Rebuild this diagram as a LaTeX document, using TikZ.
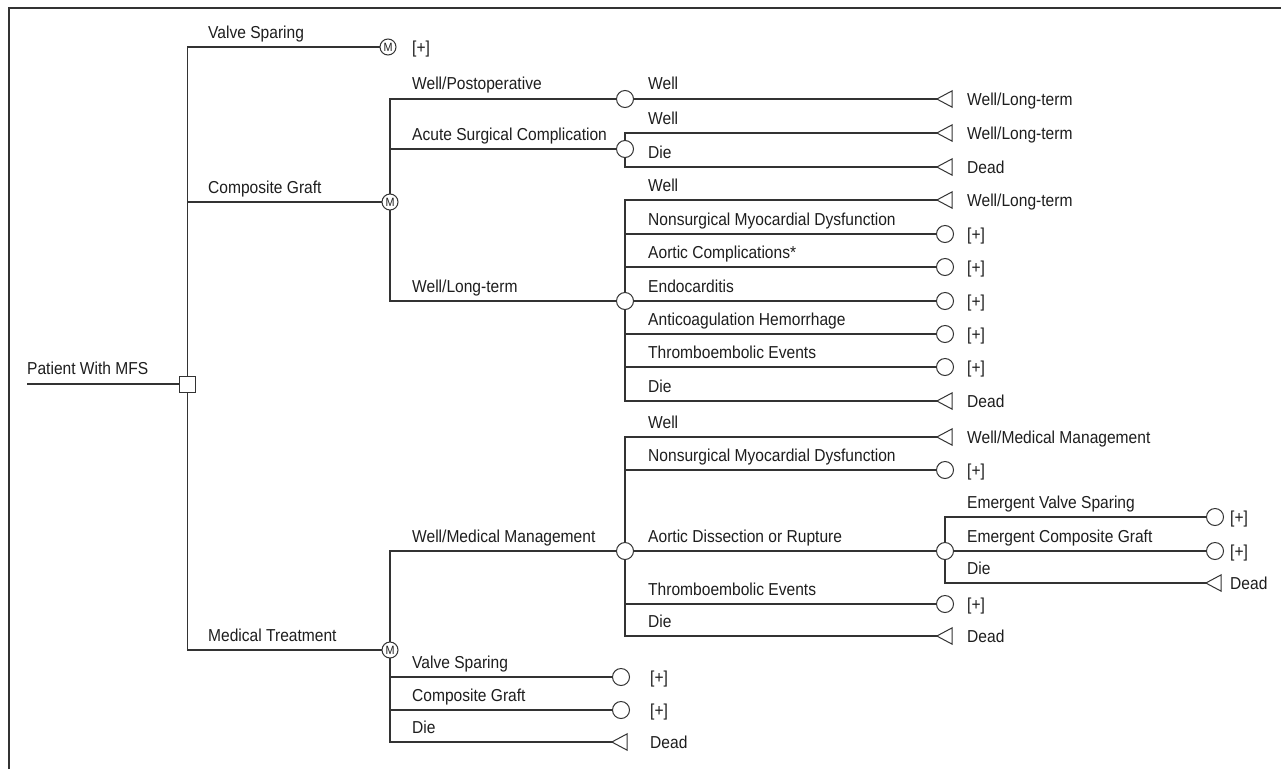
\documentclass[tikz,border=0pt]{standalone}
\usepackage{fontspec}
\setmainfont{Liberation Sans}[FakeStretch=0.9]
\pgfdeclarelayer{bg}
\pgfdeclarelayer{edges}
\pgfsetlayers{bg,edges,main}
\definecolor{ink}{HTML}{333333}
\definecolor{txt}{HTML}{1E1E1E}
\begin{document}
\begin{tikzpicture}[x=1pt,y=-1pt,
  edge/.style={draw=ink,line width=1.2pt},
  chance/.style={circle,draw=ink,fill=white,line width=1pt,minimum size=17pt,inner sep=0pt},
  markov/.style={circle,draw=ink,fill=white,line width=1pt,minimum size=16pt,inner sep=0pt,font=\fontsize{12}{12}\selectfont,text=txt},
  decision/.style={rectangle,draw=ink,fill=white,line width=1pt,minimum size=16pt,inner sep=0pt},
  term/.style={rectangle,minimum width=15pt,minimum height=16pt,inner sep=0pt},
  lab/.style={anchor=base west,inner sep=0pt,text=txt,font=\fontsize{17.3}{20}\selectfont},
  tri/.style={draw=ink,line width=1pt,fill=white,line join=miter}
]
\useasboundingbox (0,0) rectangle (1281,769);
\begin{pgfonlayer}{bg}
\fill[white] (0,0) rectangle (1281,769);
\end{pgfonlayer}
% frame
\draw[ink,line width=1.5pt] (9,769) -- (9,8) -- (1281,8);

% decision / markov / chance nodes
\coordinate (start) at (27,384);
\node[decision] (root) at (187.5,384) {};
\node[markov] (mVS) at (388,47) {M};
\node[markov] (mCG) at (390,202) {M};
\node[markov] (mMT) at (390,650) {M};
\node[chance] (cWP) at (625,99) {};
\node[chance] (cAS) at (625,149) {};
\node[chance] (cWL) at (625,301) {};
\node[chance] (cWM) at (625,551) {};
\node[chance] (cAD) at (945,551) {};

% terminals
\node[term] (tA1) at (944.5,99) {};
\node[term] (tA2) at (944.5,133) {};
\node[term] (tA3) at (944.5,167) {};
\node[term] (tB1) at (944.5,200) {};
\node[chance] (pB2) at (945,234) {};
\node[chance] (pB3) at (945,267) {};
\node[chance] (pB4) at (945,301) {};
\node[chance] (pB5) at (945,334) {};
\node[chance] (pB6) at (945,367) {};
\node[term] (tB7) at (944.5,401) {};
\node[term] (tC1) at (944.5,437) {};
\node[chance] (pC2) at (945,470) {};
\node[chance] (pE1) at (1215,517) {};
\node[chance] (pE2) at (1215,551) {};
\node[term] (tE3) at (1213.5,583) {};
\node[chance] (pC4) at (945,604) {};
\node[term] (tC5) at (944.5,636) {};
\node[chance] (pM1) at (621,677) {};
\node[chance] (pM2) at (621,710) {};
\node[term] (tM3) at (619.5,742) {};

\foreach \t in {tA1,tA2,tA3,tB1,tB7,tC1,tE3,tC5,tM3}
  \draw[tri] (\t.west) -- (\t.north east) -- (\t.south east) -- cycle;

% connectors
\begin{pgfonlayer}{edges}
\draw[edge] (start) -- (root.west);
\draw[edge] (root.center) |- (mVS.west);
\draw[edge] (root.center) |- (mCG.west);
\draw[edge] (root.center) |- (mMT.west);
\draw[edge] (mCG.center) |- (cWP.west);
\draw[edge] (mCG.center) |- (cAS.west);
\draw[edge] (mCG.center) |- (cWL.west);
\draw[edge] (cWP.center) -- (tA1.west);
\draw[edge] (cAS.center) |- (tA2.west);
\draw[edge] (cAS.center) |- (tA3.west);
\draw[edge] (cWL.center) |- (tB1.west);
\draw[edge] (cWL.center) |- (pB2.west);
\draw[edge] (cWL.center) |- (pB3.west);
\draw[edge] (cWL.center) -- (pB4.west);
\draw[edge] (cWL.center) |- (pB5.west);
\draw[edge] (cWL.center) |- (pB6.west);
\draw[edge] (cWL.center) |- (tB7.west);
\draw[edge] (mMT.center) |- (cWM.west);
\draw[edge] (mMT.center) |- (pM1.west);
\draw[edge] (mMT.center) |- (pM2.west);
\draw[edge] (mMT.center) |- (tM3.west);
\draw[edge] (cWM.center) |- (tC1.west);
\draw[edge] (cWM.center) |- (pC2.west);
\draw[edge] (cWM.center) -- (cAD.west);
\draw[edge] (cWM.center) |- (pC4.west);
\draw[edge] (cWM.center) |- (tC5.west);
\draw[edge] (cAD.center) |- (pE1.west);
\draw[edge] (cAD.center) -- (pE2.west);
\draw[edge] (cAD.center) |- (tE3.west);
\end{pgfonlayer}

% branch labels
\node[lab] (l1) at (208,38) {Valve Sparing};
\node[lab] (l2) at (208,193) {Composite Graft};
\node[lab] (l3) at (208,641) {Medical Treatment};
\node[lab] (l4) at (27,374) {Patient With MFS};
\node[lab] (l5) at (412,89) {Well/Postoperative};
\node[lab] (l6) at (412,140) {Acute Surgical Complication};
\node[lab] (l7) at (412,292) {Well/Long-term};
\node[lab] (l8) at (648,89) {Well};
\node[lab] (l9) at (648,124) {Well};
\node[lab] (l10) at (648,158) {Die};
\node[lab] (l11) at (648,191) {Well};
\node[lab] (l12) at (648,225) {Nonsurgical Myocardial Dysfunction};
\node[lab] (l13) at (648,258) {Aortic Complications*};
\node[lab] (l14) at (648,292) {Endocarditis};
\node[lab] (l15) at (648,325) {Anticoagulation Hemorrhage};
\node[lab] (l16) at (648,358) {Thromboembolic Events};
\node[lab] (l17) at (648,392) {Die};
\node[lab] (l18) at (648,428) {Well};
\node[lab] (l19) at (648,461) {Nonsurgical Myocardial Dysfunction};
\node[lab] (l20) at (412,542) {Well/Medical Management};
\node[lab] (l21) at (648,542) {Aortic Dissection or Rupture};
\node[lab] (l22) at (967,508) {Emergent Valve Sparing};
\node[lab] (l23) at (967,542) {Emergent Composite Graft};
\node[lab] (l24) at (967,574) {Die};
\node[lab] (l25) at (648,595) {Thromboembolic Events};
\node[lab] (l26) at (648,627) {Die};
\node[lab] (l27) at (412,668) {Valve Sparing};
\node[lab] (l28) at (412,701) {Composite Graft};
\node[lab] (l29) at (412,733) {Die};

% terminal labels
\node[lab] (r0) at (412,53) {[+]};
\node[lab] (r1) at (967,105) {Well/Long-term};
\node[lab] (r2) at (967,139) {Well/Long-term};
\node[lab] (r3) at (967,173) {Dead};
\node[lab] (r4) at (967,206) {Well/Long-term};
\node[lab] (r5) at (967,240) {[+]};
\node[lab] (r6) at (967,273) {[+]};
\node[lab] (r7) at (967,307) {[+]};
\node[lab] (r8) at (967,340) {[+]};
\node[lab] (r9) at (967,373) {[+]};
\node[lab] (r10) at (967,407) {Dead};
\node[lab] (r11) at (967,443) {Well/Medical Management};
\node[lab] (r12) at (967,476) {[+]};
\node[lab] (r13) at (1230,523) {[+]};
\node[lab] (r14) at (1230,557) {[+]};
\node[lab] (r15) at (1230,589) {Dead};
\node[lab] (r16) at (967,610) {[+]};
\node[lab] (r17) at (967,642) {Dead};
\node[lab] (r18) at (650,683) {[+]};
\node[lab] (r19) at (650,716) {[+]};
\node[lab] (r20) at (650,748) {Dead};
\end{tikzpicture}
\end{document}
